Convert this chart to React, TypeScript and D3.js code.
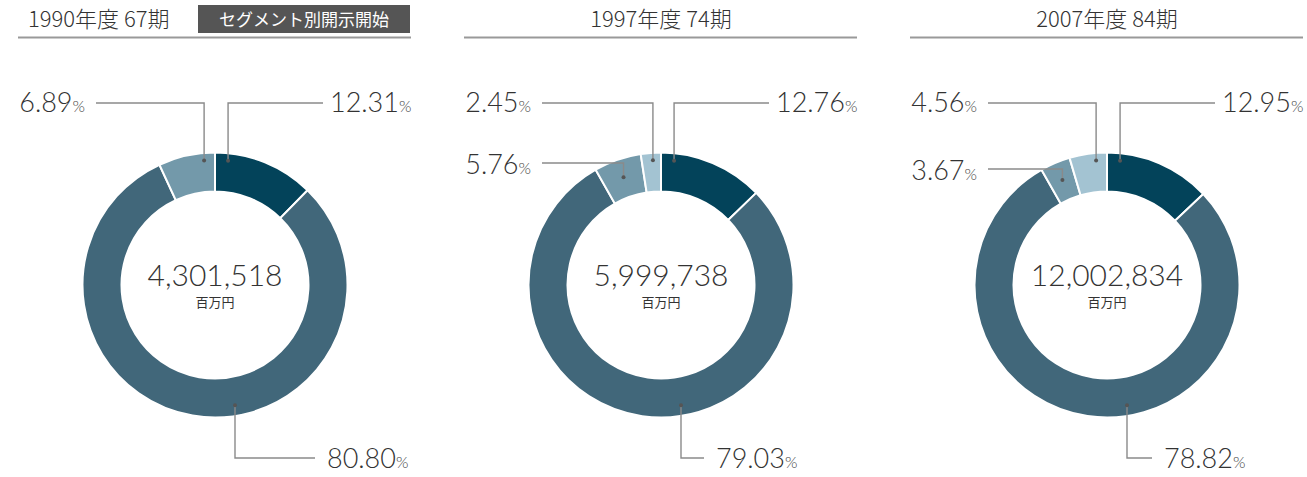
import * as d3 from "d3";

// chart data
const periods = ["1990年度 67期", "1997年度 74期", "2007年度 84期"];
const totals = ["4,301,518", "5,999,738", "12,002,834"];
const unitLabel = "百万円";
const badgeText = "セグメント別開示開始";
// share of each segment (%), clockwise from 12 o'clock
const shares1990 = [12.31, 80.8, 6.89, 0];
const shares1997 = [12.76, 79.03, 5.76, 2.45];
const shares2007 = [12.95, 78.82, 3.67, 4.56];
const allShares = [shares1990, shares1997, shares2007];

const segColors = ["#03435a", "#41677a", "#7399aa", "#a3c3d2"];

// label placement per chart / segment
type Place = "topRight" | "bottom" | "topLeft" | "midLeft" | "none";
const placements: Place[][] = [
  ["topRight", "bottom", "topLeft", "none"],
  ["topRight", "bottom", "midLeft", "topLeft"],
  ["topRight", "bottom", "midLeft", "topLeft"],
];
const midLeftY = [0, 163, 169];
const bottomLen = [80, 23, 25];

const W = 1307;
const H = 477;
const cy = 285;
const outerR = 132.5;
const innerR = 93.5;
const numFont = "'Lato', 'Noto Sans', sans-serif";
const jpFont = "'Noto Sans CJK JP', sans-serif";
const lineColor = "#8a8a8a";
const textColor = "#333";

const deg = Math.PI / 180;

const Pct = ({ v, x, y, anchor }: { v: number; x: number; y: number; anchor: string }) => (
  <text x={x} y={y} textAnchor={anchor} fill={textColor} fontFamily={numFont} fontWeight={300}>
    <tspan fontSize={27}>{v.toFixed(2)}</tspan>
    <tspan fontSize={16} fill="#444">%</tspan>
  </text>
);

const Donut = ({ idx }: { idx: number }) => {
  const x0 = 18 + idx * 446;
  const cx = x0 + 197;
  const shares = allShares[idx];
  const pie = d3.pie<number>().sort(null).value((d) => d);
  const arcs = pie(shares);
  const arc = d3.arc<d3.PieArcDatum<number>>().innerRadius(innerR).outerRadius(outerR);

  const pt = (a: number, r: number) => [cx + r * Math.sin(a), cy - r * Math.cos(a)];

  const labels = arcs.map((a, i) => {
    const place = placements[idx][i];
    if (place === "none" || a.data === 0) return null;
    const span = a.endAngle - a.startAngle;
    let dot: number[] = [0, 0];
    let path = "";
    let tx = 0, ty = 0, anchor = "start";
    if (place === "topRight") {
      dot = pt(a.startAngle + 6 * deg, 125);
      path = `M${dot[0]},${dot[1]}V103H${cx + 108}`;
      tx = cx + 115; ty = 112;
    } else if (place === "topLeft") {
      dot = pt(a.endAngle - Math.min(5 * deg, span * 0.42), 125);
      path = `M${dot[0]},${dot[1]}V103H${cx - 119}`;
      tx = cx - 130; ty = 112; anchor = "end";
    } else if (place === "midLeft") {
      dot = pt((a.startAngle + a.endAngle) / 2, 114);
      const ly = midLeftY[idx];
      path = `M${dot[0]},${dot[1]}V${ly}H${cx - 119}`;
      tx = cx - 130; ty = ly + 11; anchor = "end";
    } else {
      dot = pt(Math.PI - Math.asin(20 / 122), 122);
      path = `M${dot[0]},${dot[1]}V458H${dot[0] + bottomLen[idx]}`;
      tx = dot[0] + bottomLen[idx] + 12; ty = 468;
    }
    return (
      <g key={i}>
        <path d={path} fill="none" stroke={lineColor} strokeWidth={1.4} />
        <circle cx={dot[0]} cy={dot[1]} r={2} fill="#555" />
        <Pct v={a.data} x={tx} y={ty} anchor={anchor} />
      </g>
    );
  });

  return (
    <g>
      {/* header */}
      <line x1={x0} x2={x0 + 393} y1={37.5} y2={37.5} stroke="#999" strokeWidth={2} />
      {idx === 0 ? (
        <>
          <text x={28} y={27} fontSize={22} fill={textColor} fontFamily={jpFont} fontWeight={300}>
            {periods[idx]}
          </text>
          <rect x={198} y={5} width={212} height={28} fill="#555" />
          <text x={304} y={26} textAnchor="middle" fontSize={17} fill="#fff" fontFamily={jpFont}>
            {badgeText}
          </text>
        </>
      ) : (
        <text x={cx} y={27} textAnchor="middle" fontSize={22} fill={textColor} fontFamily={jpFont} fontWeight={300}>
          {periods[idx]}
        </text>
      )}
      <g transform={`translate(${cx},${cy})`}>
        {arcs.map((a, i) => (
          <path key={i} d={arc(a) || ""} fill={segColors[i]} stroke="#fff" strokeWidth={2} />
        ))}
      </g>
      <text x={cx} y={286} textAnchor="middle" fontSize={30} fill={textColor} fontFamily={numFont} fontWeight={300}>
        {totals[idx]}
      </text>
      <text x={cx} y={307} textAnchor="middle" fontSize={13} fill={textColor} fontFamily={jpFont}>
        {unitLabel}
      </text>
      {labels}
    </g>
  );
};

export default function App() {
  return (
    <div style={{ position: "absolute", left: 0, top: 0, background: "#fff" }}>
      <svg width={W} height={H}>
        <rect width={W} height={H} fill="#fff" />
        {periods.map((_, i) => (
          <Donut key={i} idx={i} />
        ))}
      </svg>
    </div>
  );
}
